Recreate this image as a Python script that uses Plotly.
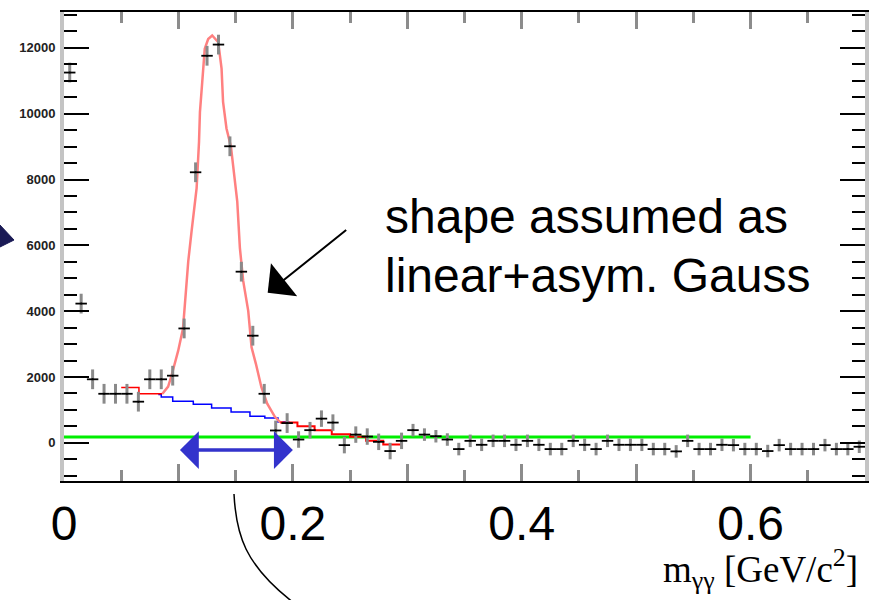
import plotly.graph_objects as go

# ---------------- data ----------------
bin_centers = [round(0.005 + 0.01 * i, 3) for i in range(70)]
counts = [11250, 4230, 1930, 1490, 1490, 1490, 1250, 1930, 1930, 2040,
          3475, 8220, 11760, 12100, 9010, 5200, 3255, 1490, 375, 600,
          100, 385, 735, 615, -70, 250, 190, 30, -250, 60,
          385, 250, 200, 100, -190, 60, -60, 60, 60, -60,
          60, -60, -190, -190, 60, -60, -190, 60, -60, -60,
          -60, -190, -190, -260, 60, -190, -190, -60, -70, -190,
          -190, -250, -70, -190, -190, -190, -70, -190, -190, -120]
errors = ([300] * 20) + ([250] * 10) + ([190] * 40)
bin_half_width = [0.005] * 70

# fit curve pieces
fit_low_x = [0.050, 0.0655, 0.086]
fit_low_y = [1680, 1490, 1490]
fit_peak_x = [0.086, 0.091, 0.094, 0.0998, 0.104, 0.107, 0.1086, 0.1115, 0.1159, 0.118,
              0.1188, 0.1208, 0.123, 0.126, 0.1295, 0.1348, 0.1377, 0.139, 0.142, 0.1459,
              0.1493, 0.1514, 0.1537, 0.1566, 0.161, 0.1639, 0.1677, 0.1725, 0.1776,
              0.1843, 0.1886, 0.191]
fit_peak_y = [1490, 1710, 2045, 2800, 3475, 4830, 5520, 6430, 7740, 9150,
              10050, 10960, 11970, 12270, 12375, 12170, 11370, 10360, 9550, 9000,
              7940, 7340, 5925, 4920, 4010, 2900, 2400, 1690, 1190,
              790, 635, 615]
fit_tail_x = [0.189, 0.204, 0.219, 0.234, 0.250, 0.264, 0.279, 0.295]
fit_tail_y = [615, 505, 385, 263, 181, 60, -50, -50]

bkg_x = [0.0824, 0.085, 0.095, 0.113, 0.129, 0.146, 0.1625, 0.1755, 0.187, 0.197]
bkg_y = [1465, 1390, 1260, 1170, 1060, 940, 807, 755, 635, 635]

flat_x = [0.0, 0.6]
flat_y = [180, 180]

x_label_vals = [0.0, 0.2, 0.4, 0.6]
x_label_text = ["0", "0.2", "0.4", "0.6"]
x_mid_ticks = [0.1, 0.3, 0.5, 0.7]
x_minor_ticks = [0.05, 0.15, 0.25, 0.35, 0.45, 0.55, 0.65]
y_tickvals = [0, 2000, 4000, 6000, 8000, 10000, 12000]
y_ticktext = ["0", "2000", "4000", "6000", "8000", "10000", "12000"]

# ---------------- layout geometry ----------------
W, H = 884, 600
L, R, T, B = 64, 19, 10, 119
PW, PH = W - L - R, H - T - B


def paper(px, py):
    return (px - L) / PW, (H - B - py) / PH


fig = go.Figure()

fig.add_trace(go.Scatter(x=flat_x, y=flat_y, mode="lines",
                         line=dict(color="#00ee00", width=3), hoverinfo="skip"))
fig.add_trace(go.Scatter(x=bkg_x, y=bkg_y, mode="lines", line_shape="hv",
                         line=dict(color="#0000ff", width=1.5), hoverinfo="skip"))
fig.add_trace(go.Scatter(x=fit_low_x, y=fit_low_y, mode="lines", line_shape="hv",
                         line=dict(color="#ff0000", width=1.5), hoverinfo="skip"))
fig.add_trace(go.Scatter(x=fit_peak_x, y=fit_peak_y, mode="lines",
                         line=dict(color="#ff8080", width=2.5), hoverinfo="skip"))
fig.add_trace(go.Scatter(x=fit_tail_x, y=fit_tail_y, mode="lines", line_shape="hv",
                         line=dict(color="#ff0000", width=2), hoverinfo="skip"))

fig.add_trace(go.Scatter(
    x=bin_centers, y=counts, mode="markers",
    marker=dict(size=2, color="black"),
    error_y=dict(type="data", array=errors, visible=True, color="#8a8a8a",
                 thickness=3, width=0),
    error_x=dict(type="data", array=bin_half_width, visible=True, color="black",
                 thickness=1.8, width=0),
))
# invisible trace to carry the secondary tick axis
fig.add_trace(go.Scatter(x=flat_x, y=flat_y, xaxis="x2", mode="lines",
                         line=dict(width=0), opacity=0, hoverinfo="skip"))

fig.update_layout(
    width=W, height=H,
    margin=dict(l=L, r=R, t=T, b=B),
    paper_bgcolor="white", plot_bgcolor="white",
    showlegend=False,
    font=dict(family="Liberation Sans, Arial, sans-serif", color="black"),
)

fig.update_layout(
    xaxis=dict(
        range=[0, 0.7], showgrid=False, zeroline=False,
        showline=True, linecolor="black", linewidth=1.5, mirror="ticks",
        ticks="inside", tickvals=x_label_vals, ticktext=x_label_text,
        ticklen=17, tickwidth=3, tickcolor="#8c8c8c",
        minor=dict(tickvals=x_minor_ticks, ticks="inside",
                   ticklen=11, tickwidth=3, tickcolor="#8c8c8c"),
        tickfont=dict(size=48, family="Liberation Sans, Arial, sans-serif", color="black"),
        ticklabelstandoff=0,
    ),
    xaxis2=dict(
        range=[0, 0.7], overlaying="x", side="bottom", showgrid=False, zeroline=False,
        showline=False, mirror="ticks", ticks="inside", tickvals=x_mid_ticks,
        showticklabels=False, ticklen=17, tickwidth=3, tickcolor="#8c8c8c",
    ),
)
fig.update_yaxes(
    range=[-1160, 13090], showgrid=False, zeroline=False,
    showline=True, linecolor="#c4c4c4", linewidth=4, mirror="ticks",
    ticks="inside", tickvals=y_tickvals, ticktext=y_ticktext,
    ticklen=25, tickwidth=1.5, tickcolor="black",
    minor=dict(dtick=500, tick0=0, ticks="inside", ticklen=13, tickwidth=1.5,
               tickcolor="black"),
    tickfont=dict(size=13, family="Liberation Sans, Arial, sans-serif",
                  color="#222222", weight="bold"),
    ticklabelstandoff=2,
)

annotations = []
x1, y1 = paper(383, 215)
annotations.append(dict(xref="paper", yref="paper", x=x1, y=y1, xanchor="left",
                        yanchor="middle", showarrow=False, text="shape assumed as",
                        font=dict(size=48, family="Liberation Sans, Arial, sans-serif")))
x2, y2 = paper(383, 275)
annotations.append(dict(xref="paper", yref="paper", x=x2, y=y2, xanchor="left",
                        yanchor="middle", showarrow=False, text="linear+asym. Gauss",
                        font=dict(size=48, family="Liberation Sans, Arial, sans-serif")))
# pointer arrow
annotations.append(dict(x=0.178, y=4556, xref="x", yref="y", ax=80, ay=-64,
                        text="", showarrow=True, arrowhead=1, arrowsize=3.5,
                        arrowwidth=2, arrowcolor="black"))
# blue double arrow
annotations.append(dict(x=0.2, y=-220, xref="x", yref="y", ax=0.1, ay=-220,
                        axref="x", ayref="y", text="", showarrow=True,
                        arrowside="end+start", arrowhead=1, startarrowhead=1,
                        arrowsize=1.8, startarrowsize=1.8, arrowwidth=3.5,
                        arrowcolor="#3333cc"))
# axis title
xt, yt = paper(860, 569)
annotations.append(dict(xref="paper", yref="paper", x=xt, y=yt, xanchor="right",
                        yanchor="middle", showarrow=False,
                        text="m<sub>γγ</sub> [GeV/c<sup>2</sup>]",
                        font=dict(size=37, family="Liberation Serif, Times New Roman, serif")))
fig.update_layout(annotations=annotations)

# decorative curve and partial arrowhead outside the plot
c = [paper(234, 494), paper(236, 535), paper(245, 565), paper(292, 602)]
path = "M {0},{1} C {2},{3} {4},{5} {6},{7}".format(
    c[0][0], c[0][1], c[1][0], c[1][1], c[2][0], c[2][1], c[3][0], c[3][1])
t = [paper(0, 224), paper(14, 239), paper(0, 246)]
tri = "M {0},{1} L {2},{3} L {4},{5} Z".format(t[0][0], t[0][1], t[1][0], t[1][1],
                                               t[2][0], t[2][1])
fig.update_layout(shapes=[
    dict(type="path", xref="paper", yref="paper", path=path,
         line=dict(color="black", width=1.5)),
    dict(type="path", xref="paper", yref="paper", path=tri,
         fillcolor="#1a1a55", line=dict(color="#1a1a55", width=1)),
])

fig.write_html("out.html")
